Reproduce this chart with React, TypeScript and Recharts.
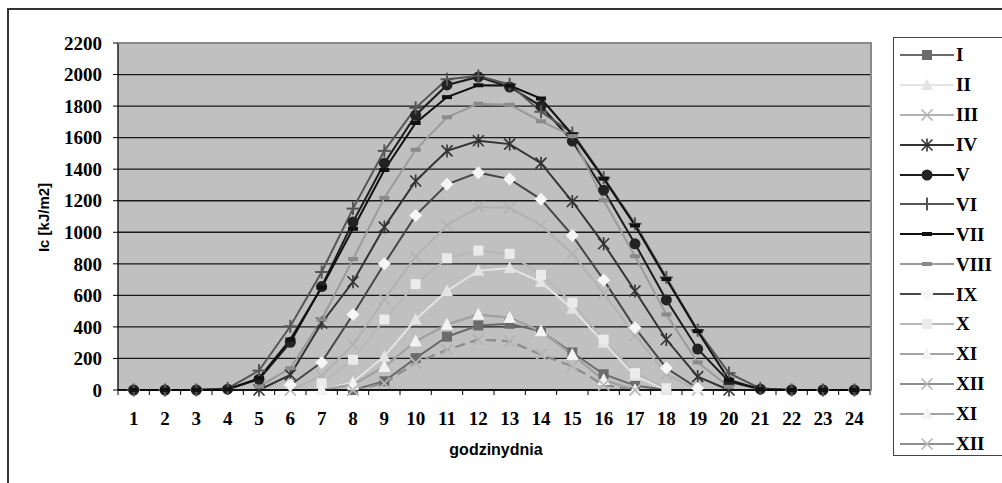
import { CartesianGrid, Line, LineChart, XAxis, YAxis } from "recharts";

const HOURS = [1, 2, 3, 4, 5, 6, 7, 8, 9, 10, 11, 12, 13, 14, 15, 16, 17, 18, 19, 20, 21, 22, 23, 24];
const Y_TICKS = [0, 200, 400, 600, 800, 1000, 1200, 1400, 1600, 1800, 2000, 2200];

// null = no reading for that hour (the month's series starts later / ends earlier)
const _ = null;
const I = [_, _, _, _, _, _, _, 0, 55, 202, 338, 409, 420, 372, 238, 100, 28, 0, _, _, _, _, _, _];
const II = [_, _, _, _, _, _, 0, 50, 213, 447, 628, 756, 773, 684, 515, 300, 90, 0, _, _, _, _, _, _];
const III = [_, _, _, _, _, 0, 90, 288, 575, 845, 1043, 1161, 1155, 1043, 865, 615, 345, 100, 0, _, _, _, _, _];
const IV = [_, _, _, _, 0, 96, 425, 686, 1033, 1325, 1516, 1580, 1559, 1438, 1195, 927, 628, 320, 85, 0, _, _, _, _];
const V = [0, 0, 0, 5, 68, 302, 656, 1065, 1438, 1742, 1934, 1985, 1921, 1800, 1578, 1267, 927, 571, 260, 53, 5, 0, 0, 0];
const VI = [0, 0, 0, 10, 123, 404, 748, 1150, 1516, 1789, 1970, 1991, 1938, 1764, 1629, 1346, 1054, 714, 379, 107, 10, 0, 0, 0];
const VII = [0, 0, 0, 5, 75, 320, 650, 1022, 1395, 1693, 1857, 1932, 1930, 1848, 1620, 1340, 1043, 703, 373, 64, 5, 0, 0, 0];
const VIII = [_, _, _, _, 21, 138, 447, 830, 1218, 1523, 1729, 1815, 1808, 1704, 1610, 1203, 848, 479, 175, 20, _, _, _, _];
const IX = [_, _, _, _, _, 32, 175, 479, 800, 1107, 1304, 1378, 1337, 1209, 980, 698, 394, 139, 11, _, _, _, _, _];
const X = [_, _, _, _, _, _, 43, 192, 447, 671, 835, 884, 863, 730, 554, 320, 107, 11, _, _, _, _, _, _];
const XI = [_, _, _, _, _, _, 0, 35, 147, 309, 415, 479, 458, 373, 224, 64, 0, _, _, _, _, _, _, _];
const XII = [_, _, _, _, _, _, _, 0, 43, 172, 255, 320, 309, 224, 150, 32, 0, _, _, _, _, _, _, _];

type MarkerKind = "square" | "triangle" | "x" | "star" | "circle" | "plus" | "dash" | "diamond";

interface Series {
  key: string;
  name: string;
  values: (number | null)[];
  stroke: string;
  marker: MarkerKind;
  markerColor: string;
  dash?: string;
}

const SERIES: Series[] = [
  { key: "m1", name: "I", values: I, stroke: "#6b6b6b", marker: "square", markerColor: "#6b6b6b" },
  { key: "m2", name: "II", values: II, stroke: "#e4e4e4", marker: "triangle", markerColor: "#e4e4e4" },
  { key: "m3", name: "III", values: III, stroke: "#b2b2b2", marker: "x", markerColor: "#b2b2b2" },
  { key: "m4", name: "IV", values: IV, stroke: "#333333", marker: "star", markerColor: "#333333" },
  { key: "m5", name: "V", values: V, stroke: "#1c1c1c", marker: "circle", markerColor: "#222222" },
  { key: "m6", name: "VI", values: VI, stroke: "#555555", marker: "plus", markerColor: "#555555" },
  { key: "m7", name: "VII", values: VII, stroke: "#111111", marker: "dash", markerColor: "#111111" },
  { key: "m8", name: "VIII", values: VIII, stroke: "#9a9a9a", marker: "dash", markerColor: "#8a8a8a" },
  { key: "m9", name: "IX", values: IX, stroke: "#474747", marker: "diamond", markerColor: "#f6f6f6" },
  { key: "m10", name: "X", values: X, stroke: "#b8b8b8", marker: "square", markerColor: "#ebebeb" },
  { key: "m11", name: "XI", values: XI, stroke: "#a2a2a2", marker: "triangle", markerColor: "#f3f3f3" },
  { key: "m12", name: "XII", values: XII, stroke: "#8e8e8e", marker: "x", markerColor: "#b4b4b4", dash: "10 6" },
  { key: "m13", name: "XI", values: XI, stroke: "#a2a2a2", marker: "triangle", markerColor: "#f3f3f3" },
  { key: "m14", name: "XII", values: XII, stroke: "#8e8e8e", marker: "x", markerColor: "#b4b4b4", dash: "10 6" },
];

const data = HOURS.map((h, i) => {
  const row: Record<string, number | string | null> = { hour: String(h) };
  SERIES.forEach((s) => {
    row[s.key] = s.values[i];
  });
  return row;
});

const W = 1002;
const H = 483;
const PLOT_LEFT = 118;
const PLOT_RIGHT = 870;
const PLOT_TOP = 43;
const PLOT_BOTTOM = 390;
const BAND = (PLOT_RIGHT - PLOT_LEFT) / HOURS.length;

const SERIF = "'Liberation Serif', 'Times New Roman', serif";
const SANS = "'Liberation Sans', Arial, sans-serif";

function Marker({ kind, cx, cy, color }: { kind: MarkerKind; cx: number; cy: number; color: string }) {
  switch (kind) {
    case "square":
      return <rect x={cx - 5} y={cy - 5} width={10} height={10} fill={color} />;
    case "triangle":
      return <polygon points={`${cx},${cy - 6.5} ${cx + 6},${cy + 5} ${cx - 6},${cy + 5}`} fill={color} />;
    case "diamond":
      return <polygon points={`${cx},${cy - 6.5} ${cx + 6.5},${cy} ${cx},${cy + 6.5} ${cx - 6.5},${cy}`} fill={color} />;
    case "circle":
      return <circle cx={cx} cy={cy} r={5.5} fill={color} />;
    case "dash":
      return <rect x={cx - 5} y={cy - 2} width={10} height={4} fill={color} />;
    case "x":
      return (
        <g stroke={color} strokeWidth={1.6}>
          <line x1={cx - 5.5} y1={cy - 5.5} x2={cx + 5.5} y2={cy + 5.5} />
          <line x1={cx - 5.5} y1={cy + 5.5} x2={cx + 5.5} y2={cy - 5.5} />
        </g>
      );
    case "star":
      return (
        <g stroke={color} strokeWidth={1.6}>
          <line x1={cx - 5.5} y1={cy - 5.5} x2={cx + 5.5} y2={cy + 5.5} />
          <line x1={cx - 5.5} y1={cy + 5.5} x2={cx + 5.5} y2={cy - 5.5} />
          <line x1={cx} y1={cy - 6.5} x2={cx} y2={cy + 6.5} />
        </g>
      );
    case "plus":
      return (
        <g stroke={color} strokeWidth={2}>
          <line x1={cx - 6.5} y1={cy} x2={cx + 6.5} y2={cy} />
          <line x1={cx} y1={cy - 6.5} x2={cx} y2={cy + 6.5} />
        </g>
      );
  }
  return null;
}

function XTick(props: any) {
  const { x, payload, index } = props;
  const y0 = PLOT_BOTTOM;
  return (
    <g>
      <line x1={x - BAND / 2} y1={y0} x2={x - BAND / 2} y2={y0 + 5} stroke="#000" />
      {index === HOURS.length - 1 && <line x1={x + BAND / 2} y1={y0} x2={x + BAND / 2} y2={y0 + 5} stroke="#000" />}
      <text x={x} y={y0 + 35} textAnchor="middle" fontFamily={SERIF} fontWeight="bold" fontSize={19} fill="#000">
        {payload.value}
      </text>
    </g>
  );
}

function LegendBox() {
  return (
    <div
      style={{
        position: "absolute",
        left: 893,
        top: 37,
        width: 120,
        height: 419,
        border: "1.5px solid #444",
        background: "#fff",
        boxSizing: "border-box",
        paddingTop: 2,
      }}
    >
      {SERIES.map((s) => (
        <div key={s.key} style={{ height: 29.9, display: "flex", alignItems: "center" }}>
          <svg width={62} height={20} style={{ flex: "none" }}>
            <line x1={6} y1={10} x2={60} y2={10} stroke={s.stroke} strokeWidth={2} />
            <Marker kind={s.marker} cx={33} cy={10} color={s.markerColor} />
          </svg>
          <span style={{ fontFamily: SERIF, fontWeight: "bold", fontSize: 19, color: "#000", lineHeight: 1 }}>{s.name}</span>
        </div>
      ))}
    </div>
  );
}

export default function App() {
  return (
    <div style={{ position: "absolute", left: 0, top: 0, width: W, height: H, overflow: "hidden", background: "#fff" }}>
      <div
        style={{
          position: "absolute",
          left: 7,
          top: 8,
          width: 1010,
          height: 490,
          border: "2px solid #333",
          boxSizing: "border-box",
        }}
      />
      <div style={{ position: "absolute", left: 0, top: 0 }}>
        <LineChart width={W} height={H} data={data} margin={{ top: PLOT_TOP, right: W - PLOT_RIGHT, bottom: H - PLOT_BOTTOM - 60, left: 8 }}>
          <CartesianGrid vertical={false} stroke="#1a1a1a" strokeWidth={1.3} fill="#c0c0c0" fillOpacity={1} />
          <XAxis
            dataKey="hour"
            height={60}
            interval={0}
            padding={{ left: BAND / 2, right: BAND / 2 }}
            axisLine={{ stroke: "#000", strokeWidth: 1.3 }}
            tickLine={false}
            tick={<XTick />}
            label={{
              content: () => (
                <text x={496} y={455} textAnchor="middle" fontFamily={SANS} fontWeight="bold" fontSize={16} fill="#000">
                  godzinydnia
                </text>
              ),
            }}
          />
          <YAxis
            width={110}
            domain={[0, 2200]}
            ticks={Y_TICKS}
            interval={0}
            axisLine={{ stroke: "#000", strokeWidth: 1.3 }}
            tickLine={{ stroke: "#000" }}
            tickSize={5}
            tickMargin={11}
            tick={{ fontFamily: SERIF, fontWeight: "bold", fontSize: 19, fill: "#000" }}
            label={{
              content: () => (
                <text
                  x={49}
                  y={217.5}
                  transform="rotate(-90 49 217.5)"
                  textAnchor="middle"
                  fontFamily={SANS}
                  fontWeight="bold"
                  fontSize={15}
                  fill="#000"
                >
                  Ic [kJ/m2]
                </text>
              ),
            }}
          />
          {SERIES.map((s) => (
            <Line
              key={s.key}
              type="linear"
              dataKey={s.key}
              name={s.name}
              stroke={s.stroke}
              strokeWidth={2}
              strokeDasharray={s.dash}
              isAnimationActive={false}
              activeDot={false}
              dot={(p: any) =>
                p.value == null || p.cy == null ? (
                  <g key={`${s.key}-${p.index}`} />
                ) : (
                  <Marker key={`${s.key}-${p.index}`} kind={s.marker} cx={p.cx} cy={p.cy} color={s.markerColor} />
                )
              }
            />
          ))}
        </LineChart>
      </div>
      <div
        style={{
          position: "absolute",
          left: PLOT_LEFT,
          top: PLOT_TOP - 1,
          width: PLOT_RIGHT - PLOT_LEFT,
          height: PLOT_BOTTOM - PLOT_TOP,
          borderTop: "2px solid #8a8a8a",
          borderRight: "2px solid #8a8a8a",
          pointerEvents: "none",
        }}
      />
      <LegendBox />
    </div>
  );
}
